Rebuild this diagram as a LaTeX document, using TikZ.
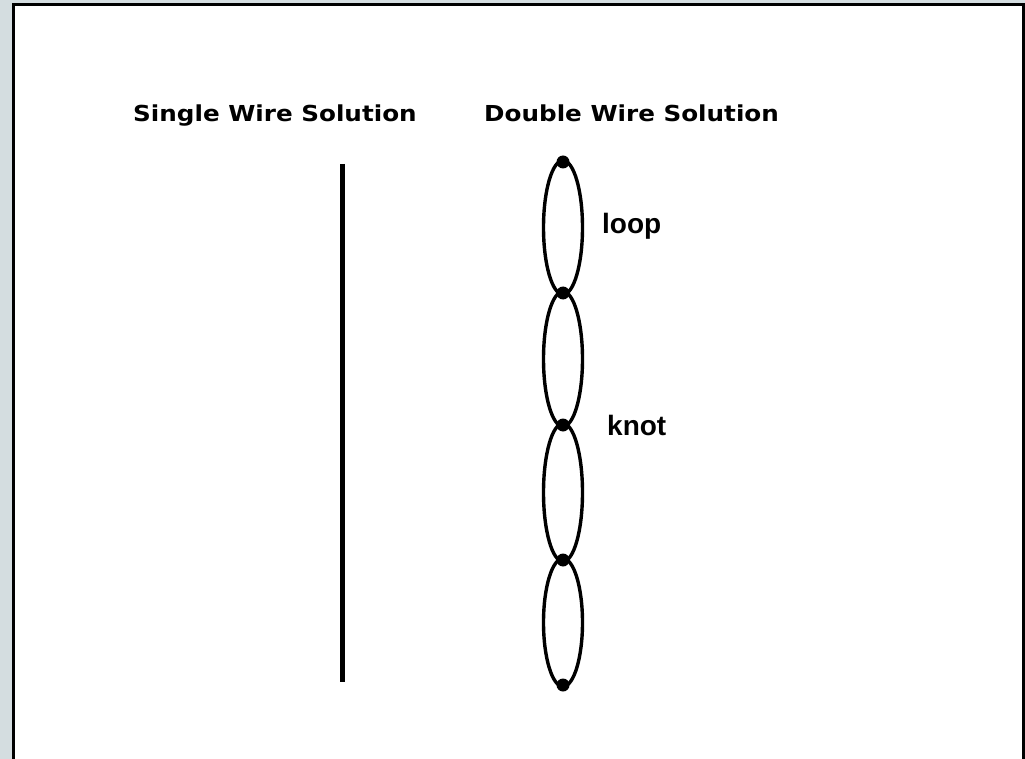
\documentclass[tikz,border=0pt]{standalone}
\usepackage{fontspec}
\newfontfamily\titlefont[FakeStretch=1.12]{DejaVu Sans Bold}
\newfontfamily\labelfont{Liberation Sans Bold}
\usetikzlibrary{calc}
\definecolor{frame}{RGB}{212,221,224}
\tikzset{
  title/.style={anchor=base west, inner sep=0pt, font=\titlefont\fontsize{22}{26}\selectfont},
  tag/.style={anchor=base west, inner sep=0pt, font=\labelfont\fontsize{28}{32}\selectfont},
  knotdot/.style={circle, fill=black, inner sep=0pt, minimum size=13pt},
  wire/.style={line width=3.4pt},
}
\begin{document}
\begin{tikzpicture}[x=1pt, y=-1pt]
  % page and window frame
  \fill[frame] (0,0) rectangle (1025,759);
  \useasboundingbox (0,0) rectangle (1025,759);
  \fill[white] (13,5) rectangle (1023,765);
  \draw[line width=3pt] (13,765) -- (13,5) -- (1023,5) -- (1023,765);

  % headings
  \node[title] (single) at (133,122) {Single Wire Solution};
  \node[title] (double) at (484,122) {Double Wire Solution};

  % single wire
  \coordinate (s1) at (342,164);
  \coordinate (s2) at (342,682);
  \draw[line width=5pt] (s1) -- (s2);

  % double wire: knot positions
  \coordinate (k1) at (563,162);
  \coordinate (k2) at (563,293);
  \coordinate (k3) at (563,425);
  \coordinate (k4) at (563,560);
  \coordinate (k5) at (563,685);
  % each loop is an ellipse a little longer than the gap, so neighbours cross
  \foreach \a/\b in {k1/k2, k2/k3, k3/k4, k4/k5}{
    \draw[wire] let \p1=(\a), \p2=(\b) in
      ($(\a)!0.5!(\b)$) ellipse [x radius=19.5pt, y radius={abs(\y2-\y1)/2+1.5pt}];
  }
  % knots on top of the loops
  \foreach \k in {k1,k2,k3,k4,k5}{
    \node[knotdot] (dot-\k) at (\k) {};
  }

  % labels
  \node[tag] (loop) at (602,234) {loop};
  \node[tag] (knot) at (607,435) {knot};
\end{tikzpicture}
\end{document}
